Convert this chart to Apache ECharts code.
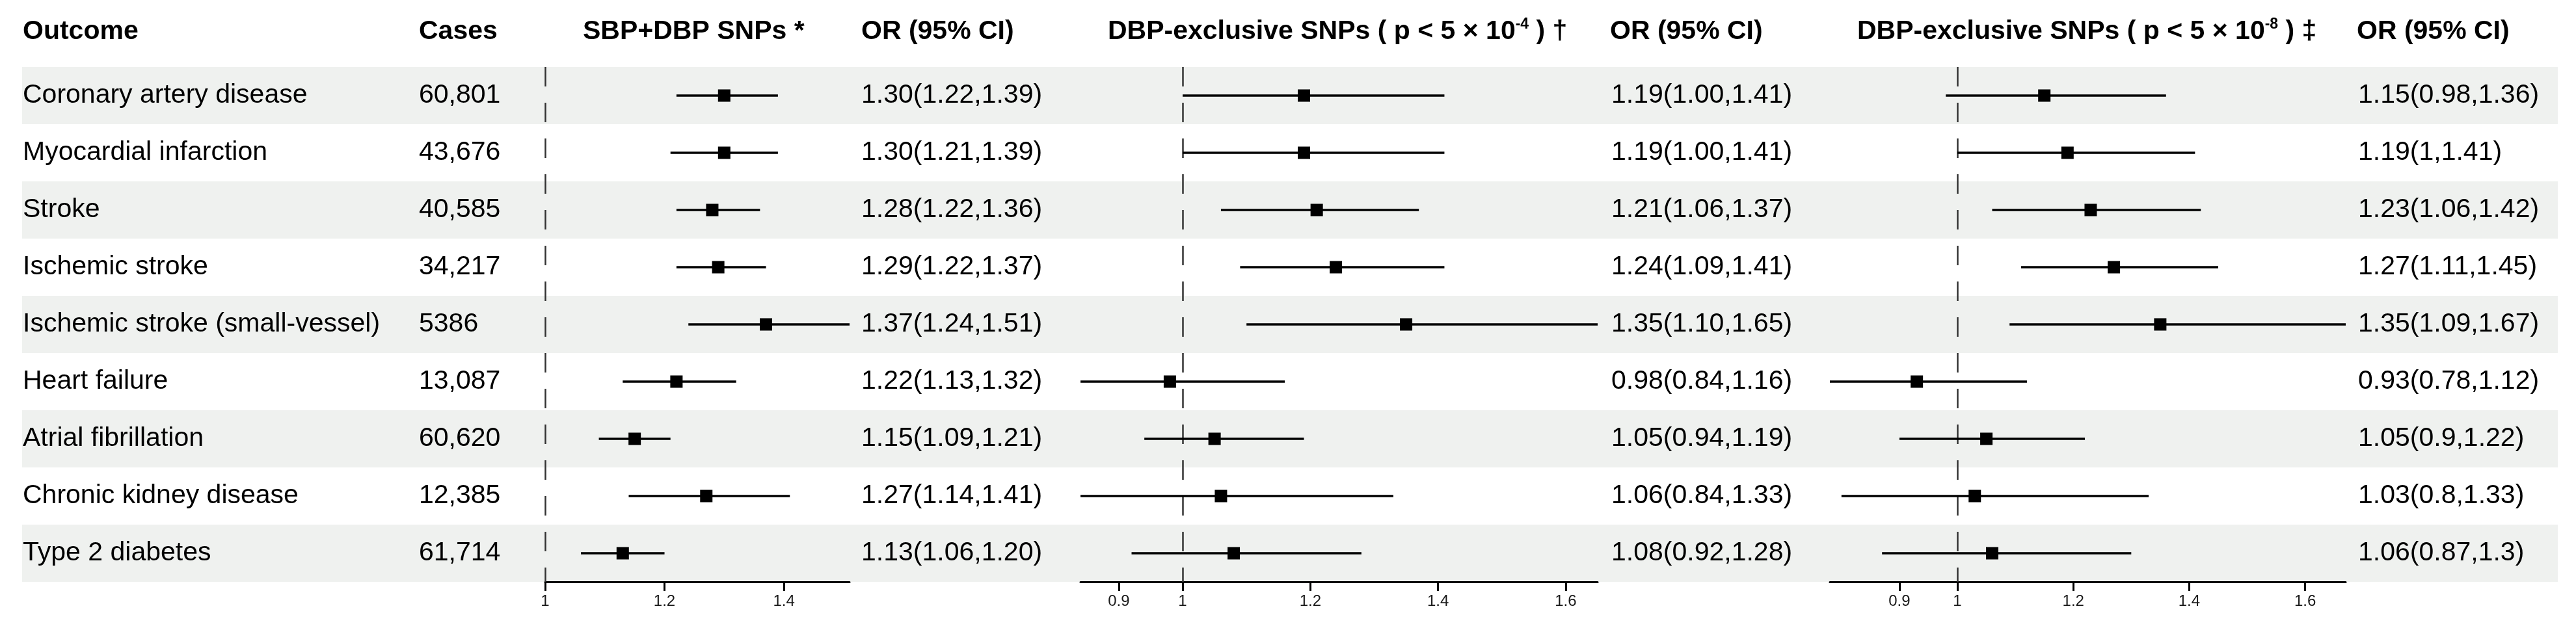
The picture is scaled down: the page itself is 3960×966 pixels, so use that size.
<!DOCTYPE html>
<html>
<head>
<meta charset="utf-8">
<script src="https://cdn.jsdelivr.net/npm/echarts@6/dist/echarts.min.js"></script>
<style>
html,body{margin:0;padding:0;background:#ffffff;}
#c{width:3960px;height:966px;}
</style>
</head>
<body>
<div id="c"></div>
<script>
// ---------------- data ----------------
const outcomes = ['Coronary artery disease','Myocardial infarction','Stroke','Ischemic stroke',
  'Ischemic stroke (small-vessel)','Heart failure','Atrial fibrillation','Chronic kidney disease','Type 2 diabetes'];
const cases = ['60,801','43,676','40,585','34,217','5386','13,087','60,620','12,385','61,714'];

// SBP+DBP SNPs
const or1 = [1.30,1.30,1.28,1.29,1.37,1.22,1.15,1.27,1.13];
const lo1 = [1.22,1.21,1.22,1.22,1.24,1.13,1.09,1.14,1.06];
const hi1 = [1.39,1.39,1.36,1.37,1.51,1.32,1.21,1.41,1.20];
// DBP-exclusive SNPs p < 5e-4
const or2 = [1.19,1.19,1.21,1.24,1.35,0.98,1.05,1.06,1.08];
const lo2 = [1.00,1.00,1.06,1.09,1.10,0.84,0.94,0.84,0.92];
const hi2 = [1.41,1.41,1.37,1.41,1.65,1.16,1.19,1.33,1.28];
// DBP-exclusive SNPs p < 5e-8
const or3 = [1.15,1.19,1.23,1.27,1.35,0.93,1.05,1.03,1.06];
const lo3 = [0.98,1.00,1.06,1.11,1.09,0.78,0.90,0.80,0.87];
const hi3 = [1.36,1.41,1.42,1.45,1.67,1.12,1.22,1.33,1.30];

const ticks1 = [1, 1.2, 1.4];
const ticks2 = [0.9, 1, 1.2, 1.4, 1.6];
const ticks3 = [0.9, 1, 1.2, 1.4, 1.6];
const xRange1 = [1, 1.51];
const xRange2 = [0.84, 1.65];
const xRange3 = [0.78, 1.67];

// ---------------- helpers ----------------
const FONT = 'Liberation Sans, Arial, Helvetica, sans-serif';
const TOP = 103, H = 792;
const rowIdx = outcomes.map((_, i) => i);

const f2 = v => v.toFixed(2);
const lab1 = or1.map((v, i) => `${f2(v)}(${f2(lo1[i])},${f2(hi1[i])})`);
const lab2 = or2.map((v, i) => `${f2(v)}(${f2(lo2[i])},${f2(hi2[i])})`);
const lab3 = or3.map((v, i) => `${String(v)}(${String(lo3[i])},${String(hi3[i])})`);

const grids = [], xAxes = [], yAxes = [], series = [];

function addGrid(left, width) {
  grids.push({left: left, width: width, top: TOP, height: H});
  return grids.length - 1;
}

// background band grid
(function(){
  const g = addGrid(34, 3898);
  xAxes.push({gridIndex: g, type: 'value', show: false, min: 0, max: 1});
  yAxes.push({gridIndex: g, type: 'category', inverse: true, data: rowIdx,
    axisLine: {show: false}, axisTick: {show: false}, axisLabel: {show: false}, splitLine: {show: false},
    splitArea: {show: true, areaStyle: {color: ['#eff1ef', '#ffffff']}}});
})();

// text column grids
function addTextCol(left, labels) {
  const g = addGrid(left, 10);
  xAxes.push({gridIndex: g, type: 'value', show: false});
  yAxes.push({gridIndex: g, type: 'category', inverse: true, data: labels,
    axisLine: {show: false}, axisTick: {show: false}, splitLine: {show: false},
    axisLabel: {inside: true, margin: 0, interval: 0, align: 'left',
      fontSize: 41, fontFamily: FONT, color: '#000'}});
}
addTextCol(35, outcomes);
addTextCol(644, cases);
addTextCol(1324, lab1);
addTextCol(2477, lab2);
addTextCol(3625, lab3);

// forest panels
function renderForest(params, api) {
  const y = api.value(0);
  const m = api.coord([api.value(1), y]);
  const a = api.coord([api.value(2), y]);
  const b = api.coord([api.value(3), y]);
  const s = 19;
  return {type: 'group', children: [
    {type: 'line', shape: {x1: a[0], y1: a[1], x2: b[0], y2: b[1]}, style: {stroke: '#000', lineWidth: 3.5}},
    {type: 'rect', shape: {x: m[0] - s / 2, y: m[1] - s / 2, width: s, height: s}, style: {fill: '#000'}}
  ]};
}
function addForest(left, width, range, ticks, est, lo, hi) {
  const g = addGrid(left, width);
  const xi = xAxes.length, yi = yAxes.length;
  xAxes.push({gridIndex: g, type: 'value', min: range[0], max: range[1], position: 'bottom',
    axisLine: {show: true, onZero: false, lineStyle: {color: '#000', width: 3}},
    axisTick: {show: true, customValues: ticks, length: 14, lineStyle: {color: '#000', width: 3}},
    axisLabel: {show: true, customValues: ticks, margin: 18, fontSize: 24, fontFamily: FONT, color: '#1a1a1a'},
    splitLine: {show: false}});
  yAxes.push({gridIndex: g, type: 'category', inverse: true, data: rowIdx, show: false});
  series.push({
    type: 'custom', xAxisIndex: xi, yAxisIndex: yi,
    data: est.map((v, i) => [i, v, lo[i], hi[i]]),
    encode: {x: [1, 2, 3], y: 0},
    renderItem: renderForest,
    z: 5,
    markLine: {
      silent: true, symbol: 'none', label: {show: false},
      lineStyle: {color: '#333', width: 2.5, type: [30, 25]},
      data: [{xAxis: 1}]
    }
  });
}
addForest(838, 468, xRange1, ticks1, or1, lo1, hi1);
addForest(1661, 795, xRange2, ticks2, or2, lo2, hi2);
addForest(2813, 793, xRange3, ticks3, or3, lo3, hi3);

// headers
function hdr(x, text, rich) {
  return {type: 'text', x: x, y: 49, z: 10,
    style: {text: text, font: 'bold 41px ' + FONT, fill: '#000',
      align: 'left', verticalAlign: 'middle', textAlign: 'left', textVerticalAlign: 'middle', rich: rich}};
}
const supRich = {
  a: {fontSize: 41, fontWeight: 'bold', fontFamily: FONT, color: '#000', lineHeight: 46},
  s: {fontSize: 23, fontWeight: 'bold', fontFamily: FONT, color: '#000', verticalAlign: 'top', lineHeight: 30}
};
const graphics = [
  hdr(35, 'Outcome'),
  hdr(644, 'Cases'),
  hdr(896, 'SBP+DBP SNPs *'),
  hdr(1324, 'OR (95% CI)'),
  hdr(1703, '{a|DBP-exclusive SNPs ( p < 5 × 10}{s|-4}{a| ) †}', supRich),
  hdr(2475, 'OR (95% CI)'),
  hdr(2855, '{a|DBP-exclusive SNPs ( p < 5 × 10}{s|-8}{a| ) ‡}', supRich),
  hdr(3623, 'OR (95% CI)')
];

const chart = echarts.init(document.getElementById('c'), null, {renderer: 'canvas'});
chart.setOption({
  animation: false,
  backgroundColor: '#ffffff',
  textStyle: {fontFamily: FONT},
  grid: grids,
  xAxis: xAxes,
  yAxis: yAxes,
  series: series,
  graphic: graphics
});
</script>
</body>
</html>
